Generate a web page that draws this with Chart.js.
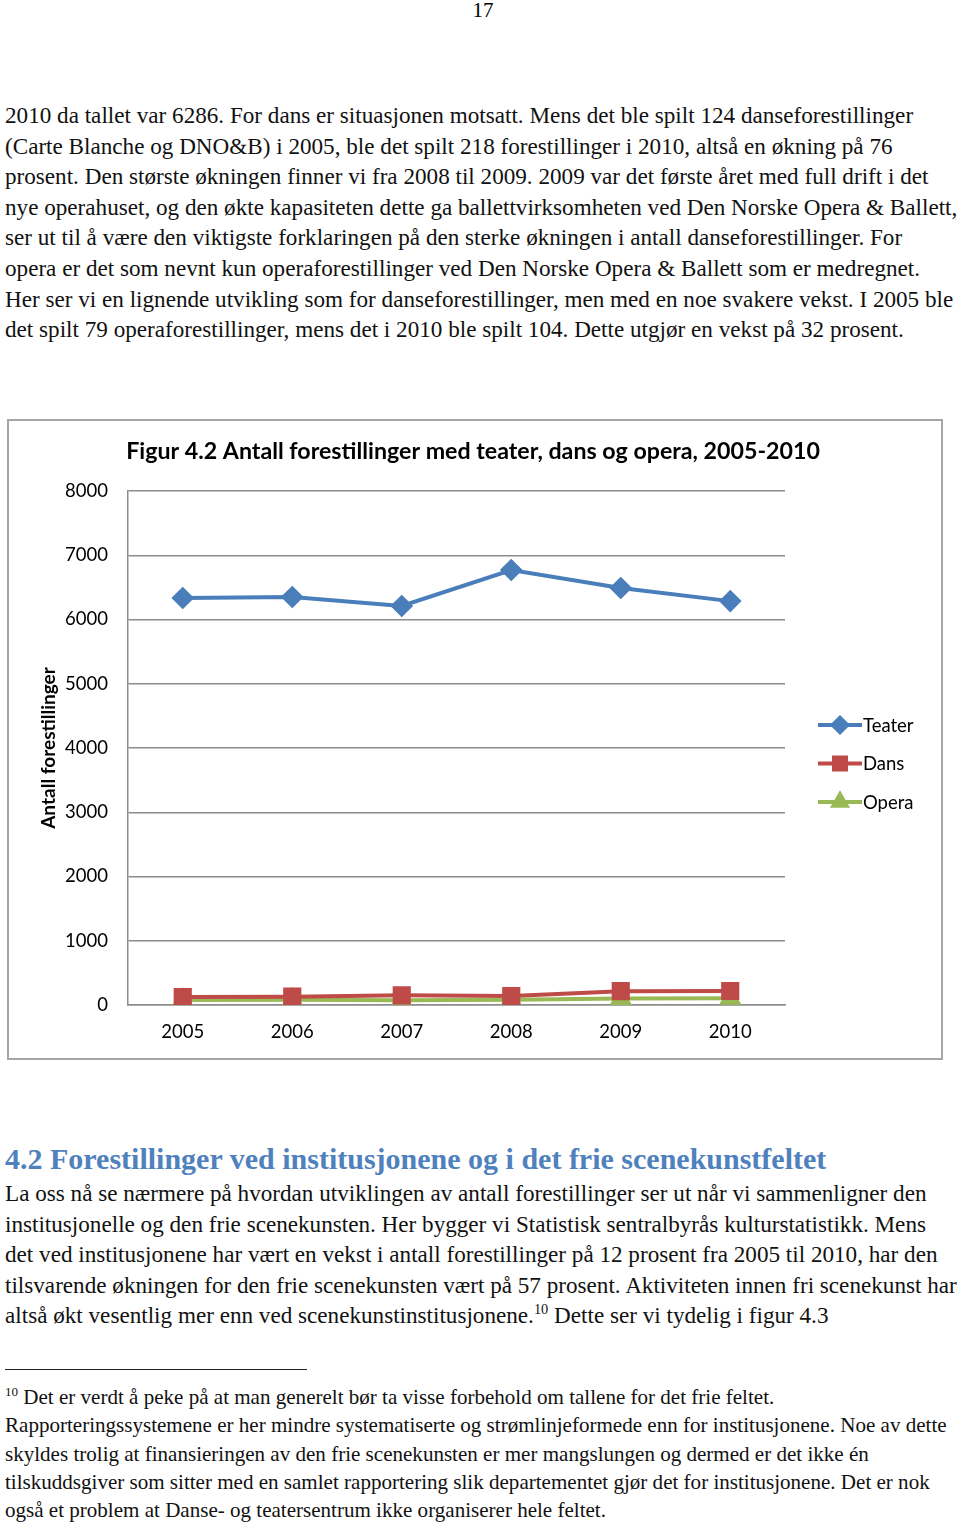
<!DOCTYPE html>
<html lang="no">
<head>
<meta charset="UTF-8">
<title>Figur 4.2</title>
<script src="https://cdn.jsdelivr.net/npm/chart.js"></script>
<style>
  body { margin: 0; width: 960px; height: 1522px; background: #fff; position: relative; overflow: hidden; }
  .txt { position: absolute; left: 5px; font-family: "Liberation Serif", "Times New Roman", serif; color: #111; white-space: pre; }
  .p { font-size: 23.15px; line-height: 30.6px; }
  .fn { font-size: 21.05px; line-height: 28.3px; }
  sup { font-size: 0.62em; line-height: 0; vertical-align: 0.6em; }
  #pagenr { position: absolute; top: -2px; left: 0; width: 966px; text-align: center; font-family: "Liberation Serif", serif; font-size: 21px; }
  #head { position: absolute; left: 5px; top: 1142px; font-family: "Liberation Serif", serif; font-weight: bold; font-size: 30px; color: #4f81bd; white-space: pre; }
  #rule { position: absolute; left: 5px; top: 1369px; width: 302px; height: 0; border-top: 1.5px solid #222; }
  #box { position: absolute; left: 7px; top: 419px; width: 932px; height: 637px; border: 2px solid #a5a5a5; }
</style>
</head>
<body>
<div id="pagenr">17</div>
<div class="txt p" style="top:100px">2010 da tallet var 6286. For dans er situasjonen motsatt. Mens det ble spilt 124 danseforestillinger
(Carte Blanche og DNO&amp;B) i 2005, ble det spilt 218 forestillinger i 2010, altså en økning på 76
prosent. Den største økningen finner vi fra 2008 til 2009. 2009 var det første året med full drift i det
nye operahuset, og den økte kapasiteten dette ga ballettvirksomheten ved Den Norske Opera &amp; Ballett,
ser ut til å være den viktigste forklaringen på den sterke økningen i antall danseforestillinger. For
opera er det som nevnt kun operaforestillinger ved Den Norske Opera &amp; Ballett som er medregnet.
Her ser vi en lignende utvikling som for danseforestillinger, men med en noe svakere vekst. I 2005 ble
det spilt 79 operaforestillinger, mens det i 2010 ble spilt 104. Dette utgjør en vekst på 32 prosent.</div>

<div id="box"><canvas id="chart" width="932" height="637"></canvas></div>

<div id="head">4.2 Forestillinger ved institusjonene og i det frie scenekunstfeltet</div>
<div class="txt p" style="top:1178px">La oss nå se nærmere på hvordan utviklingen av antall forestillinger ser ut når vi sammenligner den
institusjonelle og den frie scenekunsten. Her bygger vi Statistisk sentralbyrås kulturstatistikk. Mens
det ved institusjonene har vært en vekst i antall forestillinger på 12 prosent fra 2005 til 2010, har den
tilsvarende økningen for den frie scenekunsten vært på 57 prosent. Aktiviteten innen fri scenekunst har
altså økt vesentlig mer enn ved scenekunstinstitusjonene.<sup>10</sup> Dette ser vi tydelig i figur 4.3</div>

<div id="rule"></div>
<div class="txt fn" style="top:1383px"><sup>10</sup> Det er verdt å peke på at man generelt bør ta visse forbehold om tallene for det frie feltet.
Rapporteringssystemene er her mindre systematiserte og strømlinjeformede enn for institusjonene. Noe av dette
skyldes trolig at finansieringen av den frie scenekunsten er mer mangslungen og dermed er det ikke én
tilskuddsgiver som sitter med en samlet rapportering slik departementet gjør det for institusjonene. Det er nok
også et problem at Danse- og teatersentrum ikke organiserer hele feltet.</div>

<script>
// data lest av figuren
const years = ['2005', '2006', '2007', '2008', '2009', '2010'];
const teater = [6335, 6350, 6210, 6770, 6490, 6286];
const dans = [124, 130, 150, 140, 215, 218];
const opera = [79, 80, 75, 80, 100, 104];
const yTicks = [0, 1000, 2000, 3000, 4000, 5000, 6000, 7000, 8000];
const chartTitle = 'Figur 4.2 Antall forestillinger med teater, dans og opera, 2005-2010';

const FONT = 'Lato, "Open Sans", sans-serif';
const gridCol = '#8c8c8c';

// tittel sentrert over hele rammen
const titlePlugin = {
    id: 'fullTitle',
    afterDraw(chart) {
        const ctx = chart.ctx;
        ctx.save();
        ctx.fillStyle = '#000';
        ctx.font = 'bold 23.2px ' + FONT;
        ctx.textAlign = 'center';
        ctx.textBaseline = 'middle';
        ctx.fillText(chartTitle, chart.width / 2 - 2, 31);
        ctx.restore();
    }
};

// legende med linje + markør, til høyre for plottet
const sideLegend = {
    id: 'sideLegend',
    afterDraw(chart) {
        const ctx = chart.ctx;
        const x0 = chart.chartArea.right + 33;
        const top = chart.chartArea.top + 234;
        chart.data.datasets.forEach((ds, i) => {
            const y = top + i * 38.5;
            ctx.save();
            ctx.strokeStyle = ds.borderColor;
            ctx.lineWidth = ds.borderWidth;
            ctx.beginPath();
            ctx.moveTo(x0, y);
            ctx.lineTo(x0 + 44, y);
            ctx.stroke();
            ctx.fillStyle = ds.pointBackgroundColor;
            ctx.strokeStyle = ds.pointBackgroundColor;
            Chart.helpers.drawPoint(ctx, { pointStyle: ds.pointStyle, rotation: 0, borderWidth: 1, radius: ds.pointRadius * 0.85 }, x0 + 22, y);
            ctx.fillStyle = '#000';
            ctx.font = '18.5px ' + FONT;
            ctx.textBaseline = 'middle';
            ctx.textAlign = 'left';
            ctx.fillText(ds.label, x0 + 45, y + 1);
            ctx.restore();
        });
    }
};

new Chart(document.getElementById('chart'), {
    type: 'line',
    data: {
        labels: years,
        datasets: [{
            label: 'Teater',
            data: teater,
            borderColor: '#4a7ebb',
            pointBackgroundColor: '#4a7ebb',
            pointBorderColor: '#4a7ebb',
            borderWidth: 4,
            pointStyle: 'rectRot',
            pointRadius: 8.5
        }, {
            label: 'Dans',
            data: dans,
            borderColor: '#be4b48',
            pointBackgroundColor: '#be4b48',
            pointBorderColor: '#be4b48',
            borderWidth: 4,
            pointStyle: 'rect',
            pointRadius: 10
        }, {
            label: 'Opera',
            data: opera,
            borderColor: '#98b954',
            pointBackgroundColor: '#98b954',
            pointBorderColor: '#98b954',
            borderWidth: 4,
            pointStyle: 'triangle',
            pointRadius: 9
        }]
    },
    options: {
        responsive: false,
        animation: false,
        events: [],
        layout: { padding: { left: 20, right: 156, top: 70, bottom: 0 } },
        plugins: {
            legend: { display: false },
            tooltip: { enabled: false },
            title: { display: false }
        },
        scales: {
            x: {
                offset: true,
                afterFit(axis) { axis.height = 53; },
                grid: { display: false, drawTicks: false },
                border: { color: gridCol, width: 1.5 },
                ticks: { color: '#000', padding: 16, font: { family: FONT, size: 18.5 } }
            },
            y: {
                min: 0,
                max: 8000,
                afterBuildTicks(axis) { axis.ticks = yTicks.map(v => ({ value: v })); },
                afterFit(axis) { axis.width = 99; },
                grid: { color: gridCol, lineWidth: 1.5, drawTicks: false },
                border: { color: gridCol, width: 1.5 },
                ticks: {
                    color: '#000',
                    padding: 20,
                    font: { family: FONT, size: 18.5 },
                    callback: v => String(v)
                },
                title: {
                    display: true,
                    text: 'Antall forestillinger',
                    color: '#000',
                    font: { family: FONT, size: 19, weight: 'bold' },
                    padding: { top: 8, bottom: 0 }
                }
            }
        }
    },
    plugins: [titlePlugin, sideLegend]
});
</script>
</body>
</html>
